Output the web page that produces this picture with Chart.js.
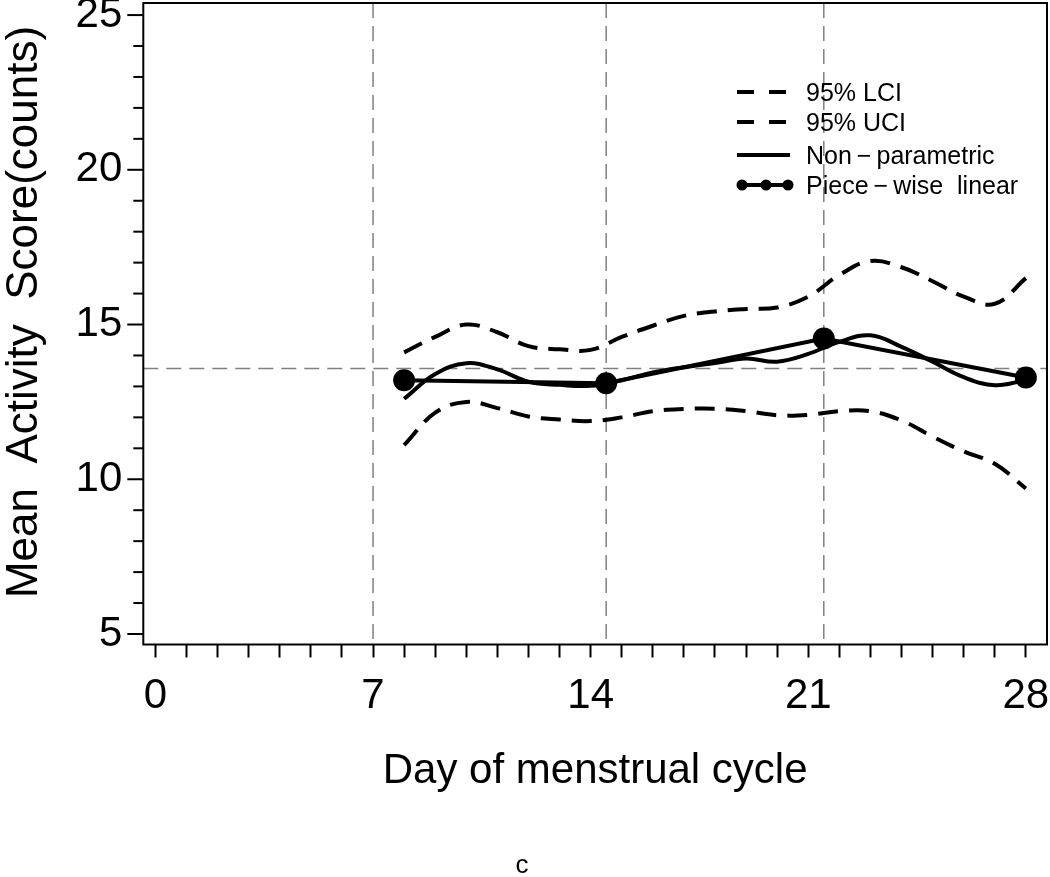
<!DOCTYPE html>
<html>
<head>
<meta charset="utf-8">
<script src="https://cdn.jsdelivr.net/npm/chart.js@4.4.1/dist/chart.umd.min.js"></script>
<style>
  html, body { margin: 0; padding: 0; background: #fff; }
  #chart { display: block; }
</style>
</head>
<body>
<canvas id="chart" width="1050" height="877"></canvas>
<script>
// ===== DATA =====
const days = [8, 9, 10, 11, 12, 13, 14, 15, 16, 17, 18, 19, 20, 21, 22, 23, 24, 25, 26, 27, 28];
const lowerCI = [11.1, 12.15, 12.5, 12.3, 12.03, 11.93, 11.88, 12.0, 12.2, 12.27, 12.28, 12.2, 12.07, 12.08, 12.2, 12.2, 11.9, 11.38, 10.9, 10.5, 9.7];
const upperCI = [14.1, 14.6, 15.0, 14.75, 14.3, 14.2, 14.18, 14.6, 14.96, 15.28, 15.42, 15.5, 15.55, 15.9, 16.6, 17.05, 16.85, 16.4, 15.9, 15.67, 16.5];
const nonParam = [12.6, 13.4, 13.75, 13.55, 13.15, 13.05, 13.02, 13.2, 13.45, 13.62, 13.76, 13.9, 13.8, 14.05, 14.44, 14.65, 14.28, 13.8, 13.3, 13.04, 13.2];
const pieceDays = [8, 14.5, 21.5, 28];
const pieceScore = [13.2, 13.1, 14.55, 13.29];
const refDays = [7, 14.5, 21.5];
const refScore = 13.58;
const xTickLabels = [0, 7, 14, 21, 28];
const yTickLabels = [5, 10, 15, 20, 25];
const legendLabels = ["95% LCI", "95% UCI", "Non\u2009\u2212\u2009parametric", "Piece\u2009\u2212\u2009wise  linear"];

const FONT = "'Liberation Sans', Arial, sans-serif";

function toPoints(xs, ys) {
  return xs.map((x, i) => ({ x: x, y: ys[i] }));
}

// ===== REFERENCE LINES, FRAME, TICKS, LEGEND =====
const decorations = {
  id: 'decorations',
  beforeDatasetsDraw(chart) {
    const { ctx, chartArea: a, scales: { x, y } } = chart;
    ctx.save();
    ctx.strokeStyle = '#808080';
    ctx.lineWidth = 1.5;
    ctx.setLineDash([15, 8]);
    refDays.forEach(d => {
      const px = x.getPixelForValue(d);
      ctx.beginPath();
      ctx.moveTo(px, a.top);
      ctx.lineTo(px, a.bottom);
      ctx.stroke();
    });
    const py = y.getPixelForValue(refScore);
    ctx.beginPath();
    ctx.moveTo(a.left, py);
    ctx.lineTo(a.right, py);
    ctx.stroke();
    ctx.restore();
  },
  afterDraw(chart) {
    const { ctx, chartArea: a, scales: { y } } = chart;
    ctx.save();
    // frame
    ctx.strokeStyle = '#000';
    ctx.lineWidth = 2;
    ctx.strokeRect(a.left, a.top, a.right - a.left, a.bottom - a.top);
    // y ticks, major longer than minor
    y.ticks.forEach(t => {
      const py = y.getPixelForValue(t.value);
      const len = yTickLabels.includes(t.value) ? 16 : 10;
      ctx.beginPath();
      ctx.moveTo(a.left - len, py);
      ctx.lineTo(a.left, py);
      ctx.stroke();
    });

    // y title
    ctx.save();
    ctx.translate(37, 312);
    ctx.rotate(-Math.PI / 2);
    ctx.font = '44px ' + FONT;
    ctx.textAlign = 'center';
    ctx.textBaseline = 'alphabetic';
    ctx.fillStyle = '#000';
    ctx.fillText('Mean  Activity  Score(counts)', 0, 0);
    ctx.restore();

    // legend
    const rows = [92, 122, 155, 185];
    const x0 = 737, x1 = 788;
    ctx.lineWidth = 4;
    rows.forEach((ry, i) => {
      ctx.beginPath();
      ctx.setLineDash(i < 2 ? [17, 15] : []);
      ctx.moveTo(x0, ry);
      ctx.lineTo(i < 2 ? x1 : x1 + 2, ry);
      ctx.stroke();
    });
    ctx.setLineDash([]);
    [742, 766, 788].forEach(cx => {
      ctx.beginPath();
      ctx.arc(cx, rows[3], 5.5, 0, Math.PI * 2);
      ctx.fill();
    });
    ctx.fillStyle = '#000';
    ctx.font = '25px ' + FONT;
    ctx.textBaseline = 'middle';
    ctx.textAlign = 'left';
    legendLabels.forEach((txt, i) => ctx.fillText(txt, 806, rows[i] + 2));

    // panel letter
    ctx.font = '26px ' + FONT;
    ctx.textAlign = 'center';
    ctx.textBaseline = 'alphabetic';
    ctx.fillText('c', 522, 873);
    ctx.restore();
  }
};

// ===== CHART =====
const ctx = document.getElementById('chart').getContext('2d');

new Chart(ctx, {
  type: 'line',
  data: {
    datasets: [
      {
        label: legendLabels[0],
        data: toPoints(days, lowerCI),
        borderColor: '#000',
        borderWidth: 4,
        borderDash: [20, 11],
        tension: 0.4,
        pointRadius: 0
      },
      {
        label: legendLabels[1],
        data: toPoints(days, upperCI),
        borderColor: '#000',
        borderWidth: 4,
        borderDash: [20, 11],
        tension: 0.4,
        pointRadius: 0
      },
      {
        label: legendLabels[2],
        data: toPoints(days, nonParam),
        borderColor: '#000',
        borderWidth: 4,
        tension: 0.4,
        pointRadius: 0
      },
      {
        label: legendLabels[3],
        data: toPoints(pieceDays, pieceScore),
        borderColor: '#000',
        borderWidth: 4,
        tension: 0,
        pointRadius: 11,
        pointBackgroundColor: '#000',
        pointBorderWidth: 0
      }
    ]
  },
  options: {
    responsive: false,
    animation: false,
    events: [],
    layout: { autoPadding: false, padding: { top: 3, right: 3, left: 0, bottom: 0 } },
    plugins: {
      legend: { display: false },
      tooltip: { enabled: false }
    },
    scales: {
      x: {
        type: 'linear',
        min: -0.39,
        max: 28.68,
        afterFit: scale => {
          scale.height = 232.5;
          scale.paddingLeft = 0;
          scale.paddingRight = 0;
        },
        afterBuildTicks: scale => {
          const t = [];
          for (let d = 0; d <= 28; d++) t.push({ value: d });
          scale.ticks = t;
        },
        border: { display: false },
        grid: {
          drawOnChartArea: false,
          tickLength: 13,
          tickWidth: 2,
          tickColor: '#000'
        },
        ticks: {
          autoSkip: false,
          maxRotation: 0,
          padding: 14,
          color: '#000',
          font: { family: FONT, size: 42 },
          callback: v => xTickLabels.includes(v) ? String(v) : ''
        },
        title: {
          display: true,
          text: 'Day of menstrual cycle',
          color: '#000',
          font: { family: FONT, size: 42 },
          padding: { top: 0, bottom: 80 }
        }
      },
      y: {
        min: 4.66,
        max: 25.39,
        afterFit: scale => {
          scale.width = 143.3;
          scale.paddingTop = 0;
          scale.paddingBottom = 0;
        },
        afterBuildTicks: scale => {
          const t = [];
          for (let v = 5; v <= 25; v++) t.push({ value: v });
          scale.ticks = t;
        },
        border: { display: false },
        grid: { display: false, drawTicks: false },
        ticks: {
          autoSkip: false,
          padding: 21,
          color: '#000',
          font: { family: FONT, size: 42 },
          callback: v => yTickLabels.includes(v) ? String(v) : ''
        }
      }
    }
  },
  plugins: [decorations]
});
</script>
</body>
</html>
